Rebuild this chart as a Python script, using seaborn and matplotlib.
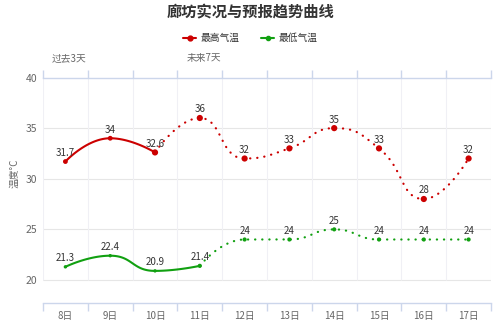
import numpy as np
import pandas as pd
import matplotlib
matplotlib.use("Agg")
import matplotlib.pyplot as plt
import seaborn as sns
from matplotlib.lines import Line2D

# ---------------- data ----------------
days = ['8日', '9日', '10日', '11日', '12日', '13日', '14日', '15日', '16日', '17日']
high_actual = [31.7, 34, 32.6]                         # 8日-10日
high_forecast = [32.6, 36, 32, 33, 35, 33, 28, 32]     # 10日-17日
low_actual = [21.3, 22.4, 20.9, 21.4]                  # 8日-11日
low_forecast = [21.4, 24, 24, 25, 24, 24, 24]          # 11日-17日
high_forecast_start = 2
low_forecast_start = 3
series_names = ['最高气温', '最低气温']
period_labels = ['过去3天', '未来7天']
title = '廊坊实况与预报趋势曲线'
ylabel = '温度°C'
yticks = [20, 25, 30, 35, 40]

RED = '#cc0000'
GREEN = '#11a011'
TXT = '#333333'
GRAY = '#666666'
AXC = '#ccd6eb'

sns.set_theme(style='white')
plt.rcParams['font.family'] = ['Noto Sans CJK SC', 'DejaVu Sans']

W, H = 500, 333
fig = plt.figure(figsize=(W / 100, H / 100), dpi=100)
ax_left, ax_right = 43, 491
ax_top_px, ax_bot_px = 77.5, 303
y20_px = 280
ppd = (y20_px - ax_top_px) / 20.0
ymin = 20 - (ax_bot_px - y20_px) / ppd
ax = fig.add_axes([ax_left / W, 1 - ax_bot_px / H, (ax_right - ax_left) / W, (ax_bot_px - ax_top_px) / H])
n = len(days)
ax.set_xlim(-0.5, n - 0.5)
ax.set_ylim(ymin, 40)

sx = (ax_right - ax_left) / n
sy = ppd


def smooth_curve(xs, ys, smooth=0.5, steps=40):
    """Bezier smoothing with per-segment control point clamping (echarts-like)."""
    P = np.column_stack([np.asarray(xs, float) * sx, np.asarray(ys, float) * sy])
    m = len(P)
    t = np.linspace(0, 1, steps)[:, None]
    out = [P[0:1]]
    cp0 = P[0].copy()
    for k in range(1, m):
        p = P[k]
        prev = P[k - 1]
        if k == m - 1:
            cp1 = p.copy()
            nxt_cp0 = p.copy()
        else:
            nxt = P[k + 1]
            v = nxt - prev
            lp = np.linalg.norm(p - prev)
            ln = np.linalg.norm(nxt - p)
            r = ln / (ln + lp)
            ncp = p + v * smooth * r
            ncp = np.minimum(ncp, np.maximum(nxt, p))
            ncp = np.maximum(ncp, np.minimum(nxt, p))
            v = ncp - p
            cp1 = p - v * lp / ln
            cp1 = np.minimum(cp1, np.maximum(prev, p))
            cp1 = np.maximum(cp1, np.minimum(prev, p))
            v = p - cp1
            nxt_cp0 = p + v * ln / lp
        seg = (1 - t) ** 3 * prev + 3 * (1 - t) ** 2 * t * cp0 + 3 * (1 - t) * t ** 2 * cp1 + t ** 3 * p
        out.append(seg[1:])
        cp0 = nxt_cp0
    Q = np.vstack(out)
    return Q[:, 0] / sx, Q[:, 1] / sy


# grid
for yv in yticks[:-1]:
    ax.axhline(yv, color='#e6e6e6', lw=0.8, zorder=0)
ax.vlines(np.arange(-0.5, n), 20, 40, color='#f0f0f5', lw=0.8, zorder=0)

dotted = (0, (0.1, 3.1))
series = [
    (high_actual, 0, high_forecast, high_forecast_start, RED, 12, 20),
    (low_actual, 0, low_forecast, low_forecast_start, GREEN, 6, 9),
]
for act, a0, fc, f0, col, s_act, s_fc in series:
    xa = np.arange(a0, a0 + len(act))
    xf = np.arange(f0, f0 + len(fc))
    cx, cy = smooth_curve(xa, act)
    sns.lineplot(x=cx, y=cy, sort=False, estimator=None, ax=ax, color=col, lw=1.5, zorder=3)
    cx, cy = smooth_curve(xf, fc)
    sns.lineplot(x=cx, y=cy, sort=False, estimator=None, ax=ax, color=col, lw=1.6,
                 linestyle=dotted, dash_capstyle='round', zorder=3)
    sns.scatterplot(x=xa, y=act, ax=ax, color=col, s=s_act, edgecolor='none', zorder=4)
    sns.scatterplot(x=xf, y=fc, ax=ax, color=col, s=s_fc, edgecolor='none', zorder=4)
    overlap = a0 + len(act) - f0
    allv = list(act) + list(fc[overlap:])
    for i, v in enumerate(allv):
        ax.annotate(f'{v:g}', (a0 + i, v), xytext=(0, 6.2), textcoords='offset points',
                    ha='center', va='center', fontsize=7, color=TXT, zorder=5)

# axes styling
for sp in ['left', 'right']:
    ax.spines[sp].set_visible(False)
for sp in ['top', 'bottom']:
    ax.spines[sp].set_color(AXC)
    ax.spines[sp].set_linewidth(1)
ax.set_xticks(np.arange(n))
ax.set_xticklabels(days)
ax.set_xticks(np.arange(-0.5, n), minor=True)
ax.tick_params(axis='x', which='major', length=0, labelsize=7, labelcolor=GRAY, pad=6)
ax.tick_params(axis='x', which='minor', length=6, width=1, color=AXC, direction='out',
               top=True, bottom=True)
ax.set_yticks(yticks)
ax.tick_params(axis='y', which='major', length=0, labelsize=7.5, labelcolor=GRAY, pad=4)
ax.set_xlabel('')
ax.set_ylabel('')
if ax.get_legend():
    ax.get_legend().remove()

fig.text(15 / W, 1 - 173 / H, ylabel, rotation=90, ha='center', va='center', fontsize=7, color=GRAY)
fig.text(68.5 / W, 1 - 58 / H, period_labels[0], ha='center', va='center', fontsize=7, color=GRAY)
fig.text(203.5 / W, 1 - 58 / H, period_labels[1], ha='center', va='center', fontsize=7, color=GRAY)
fig.text(250 / W, 1 - 12 / H, title, ha='center', va='center', fontsize=11, fontweight='bold', color=TXT)

handles = [Line2D([0], [0], color=RED, lw=1.5, marker='o', markersize=3.5),
           Line2D([0], [0], color=GREEN, lw=1.5, marker='o', markersize=3)]
fig.legend(handles, series_names, loc='center', bbox_to_anchor=(250 / W, 1 - 38 / H), ncol=2,
           frameon=False, fontsize=7, handlelength=1.4, handletextpad=0.4, columnspacing=2.2,
           labelcolor=TXT)

fig.savefig('out.png', dpi=100)
